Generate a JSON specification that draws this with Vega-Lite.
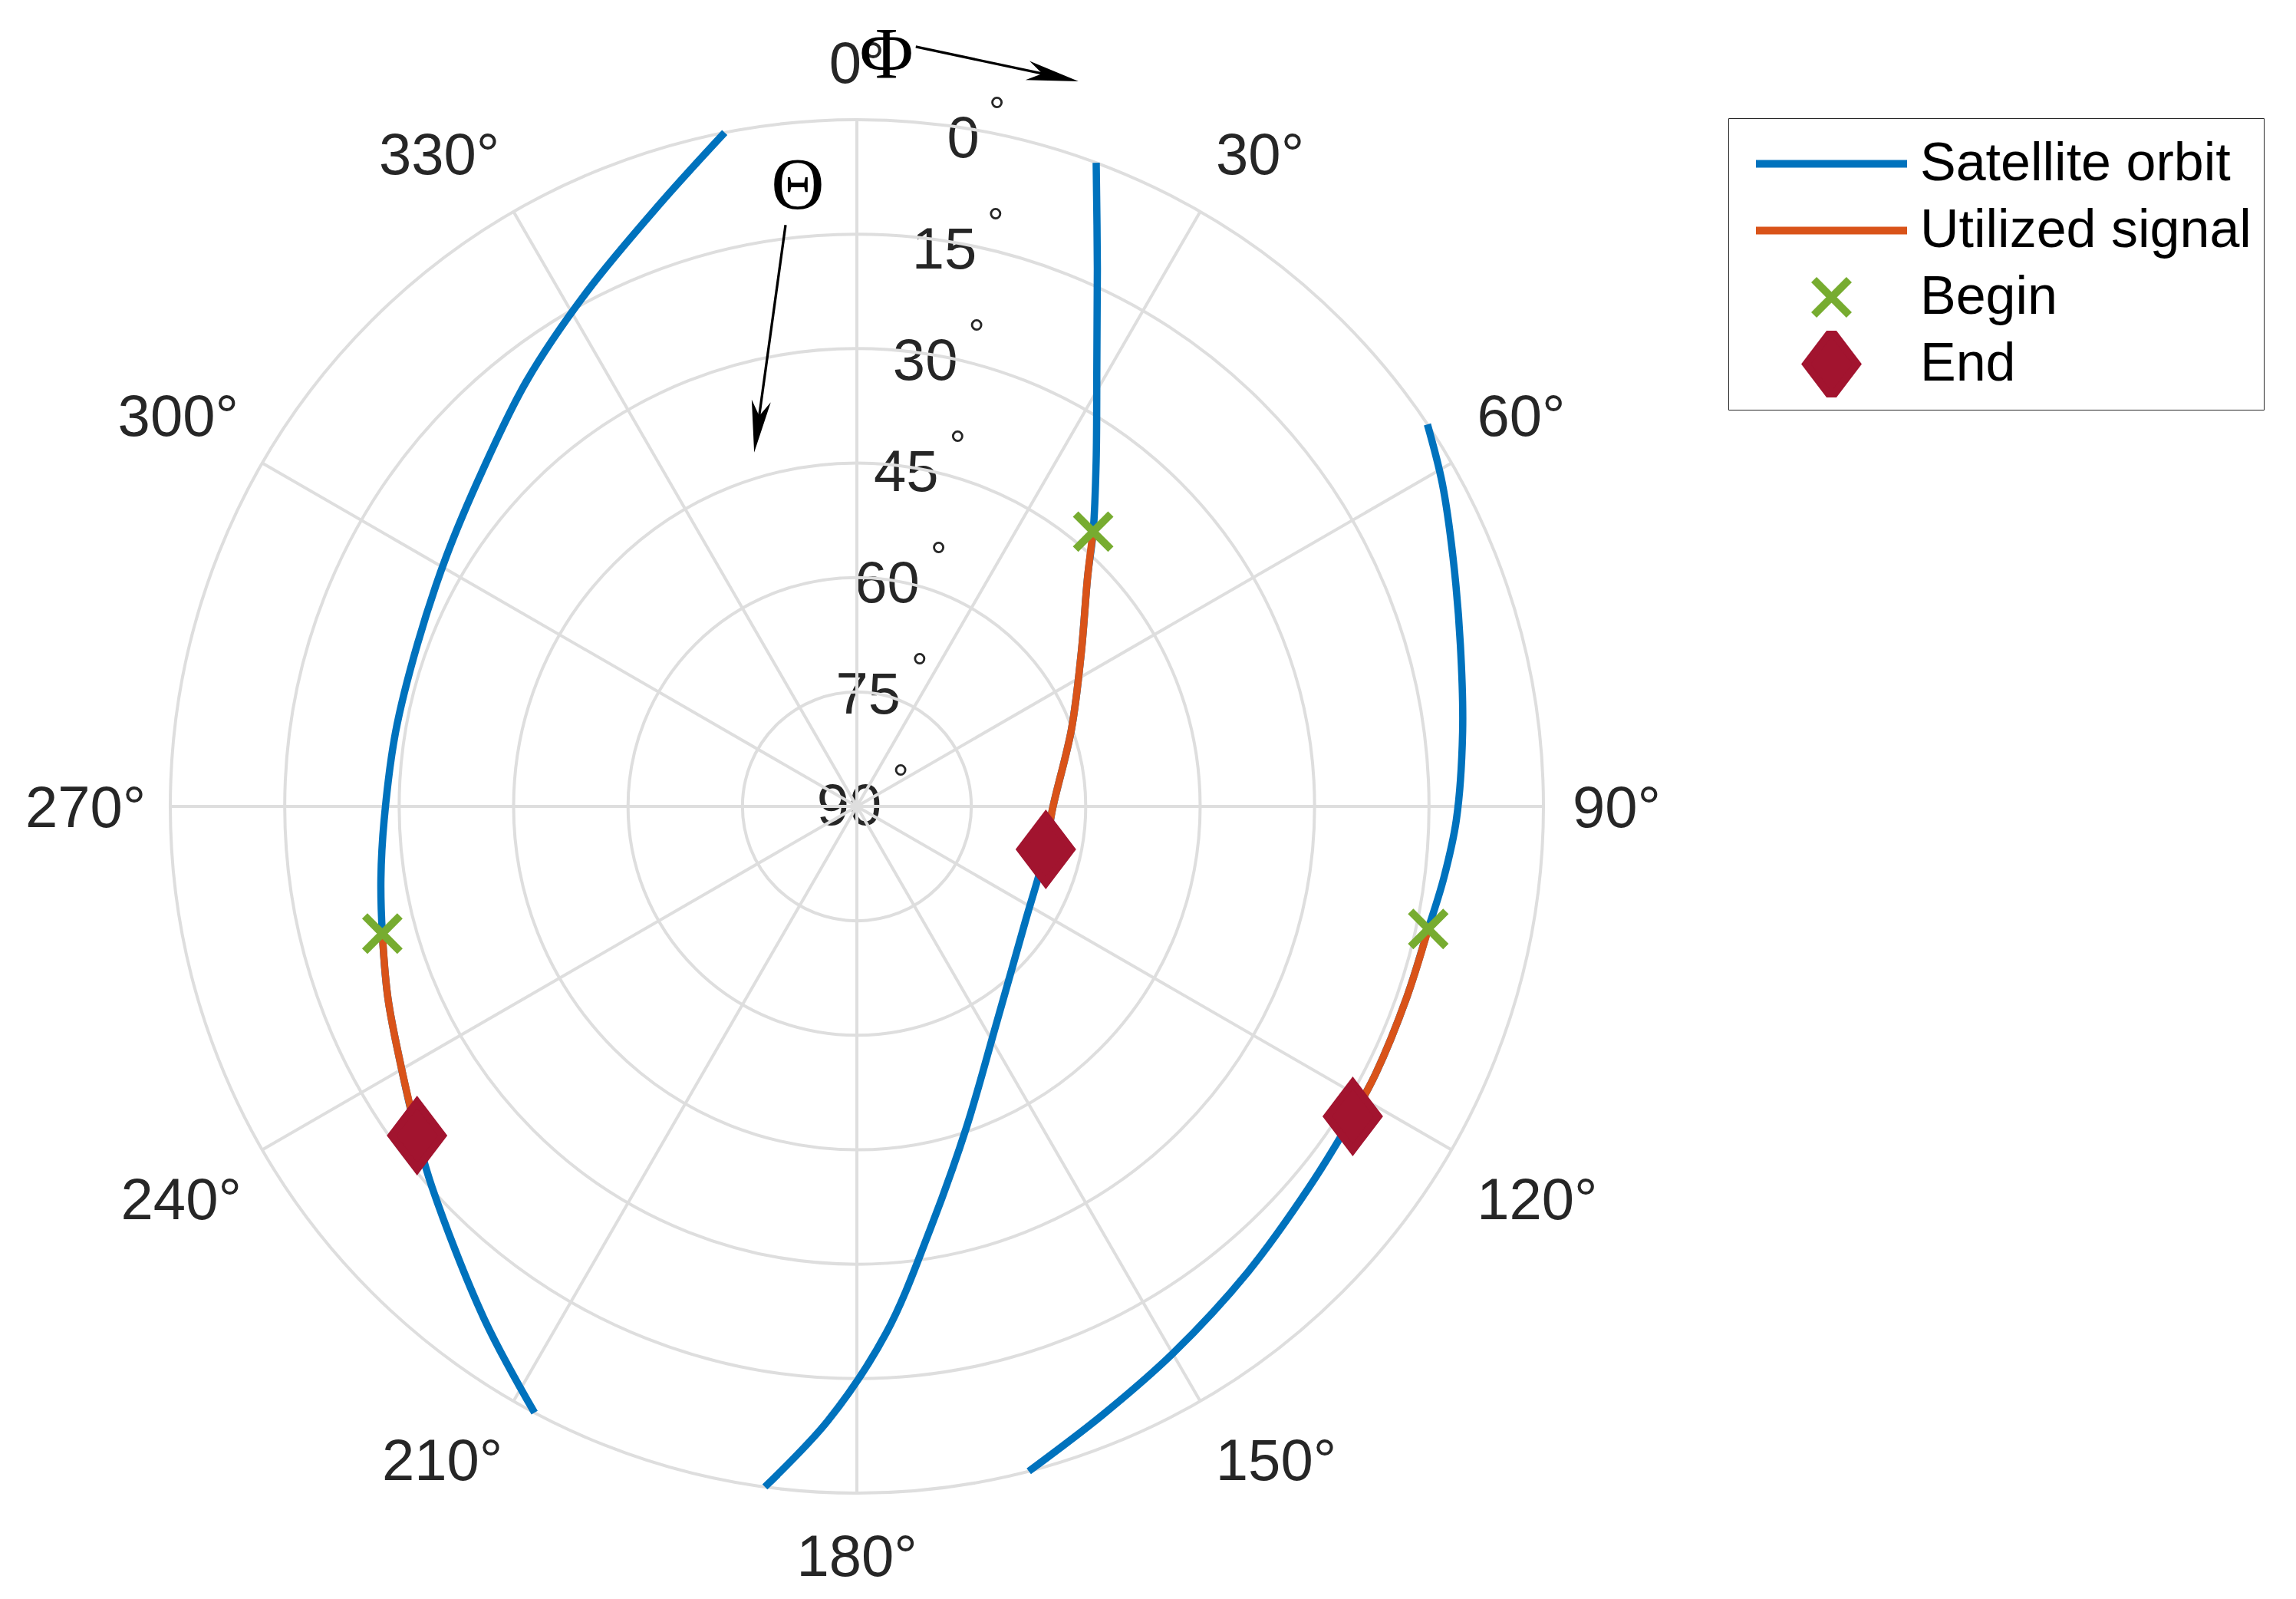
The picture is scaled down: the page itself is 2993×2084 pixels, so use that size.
{
  "$schema": "https://vega.github.io/schema/vega-lite/v6.json",
  "width": 1790,
  "height": 1790,
  "autosize": {"type": "none"},
  "padding": {"left": 222, "top": 156, "right": 981, "bottom": 138},
  "background": "white",
  "config": {"view": {"stroke": null}, "font": "Liberation Sans"},
  "datasets": {
    "orbits": [
      {"sat": "A", "i": 0, "az": 20.4, "el": 0, "used": false, "marker": null},
      {"sat": "A", "i": 1, "az": 24.1, "el": 12.8, "used": false, "marker": null},
      {"sat": "A", "i": 2, "az": 28.7, "el": 24.5, "used": false, "marker": null},
      {"sat": "A", "i": 3, "az": 34.7, "el": 34.9, "used": false, "marker": null},
      {"sat": "A", "i": 4, "az": 40.7, "el": 42.5, "used": true, "marker": "Begin"},
      {"sat": "A", "i": 5, "az": 45.0, "el": 47.2, "used": true, "marker": null},
      {"sat": "A", "i": 6, "az": 55.5, "el": 54.3, "used": true, "marker": null},
      {"sat": "A", "i": 7, "az": 70.2, "el": 60.1, "used": true, "marker": null},
      {"sat": "A", "i": 8, "az": 91.3, "el": 64.4, "used": true, "marker": null},
      {"sat": "A", "i": 9, "az": 102.8, "el": 64.6, "used": true, "marker": "End"},
      {"sat": "A", "i": 10, "az": 124.1, "el": 63.3, "used": false, "marker": null},
      {"sat": "A", "i": 11, "az": 147.6, "el": 56.0, "used": false, "marker": null},
      {"sat": "A", "i": 12, "az": 161.2, "el": 45.5, "used": false, "marker": null},
      {"sat": "A", "i": 13, "az": 170.2, "el": 33.7, "used": false, "marker": null},
      {"sat": "A", "i": 14, "az": 176.8, "el": 20.9, "used": false, "marker": null},
      {"sat": "A", "i": 15, "az": 182.7, "el": 9.4, "used": false, "marker": null},
      {"sat": "A", "i": 16, "az": 187.7, "el": 0, "used": false, "marker": null},
      {"sat": "B", "i": 0, "az": 56.2, "el": 0, "used": false, "marker": null},
      {"sat": "B", "i": 1, "az": 61.1, "el": 2.35, "used": false, "marker": null},
      {"sat": "B", "i": 2, "az": 67.3, "el": 5.3, "used": false, "marker": null},
      {"sat": "B", "i": 3, "az": 75.0, "el": 8.1, "used": false, "marker": null},
      {"sat": "B", "i": 4, "az": 83.0, "el": 10.0, "used": false, "marker": null},
      {"sat": "B", "i": 5, "az": 91.3, "el": 11.4, "used": false, "marker": null},
      {"sat": "B", "i": 6, "az": 97.0, "el": 12.5, "used": false, "marker": null},
      {"sat": "B", "i": 7, "az": 102.1, "el": 13.4, "used": true, "marker": "Begin"},
      {"sat": "B", "i": 8, "az": 109.2, "el": 13.7, "used": true, "marker": null},
      {"sat": "B", "i": 9, "az": 117.3, "el": 13.5, "used": true, "marker": null},
      {"sat": "B", "i": 10, "az": 122.0, "el": 13.35, "used": true, "marker": "End"},
      {"sat": "B", "i": 11, "az": 130.1, "el": 12.5, "used": false, "marker": null},
      {"sat": "B", "i": 12, "az": 140.0, "el": 10.3, "used": false, "marker": null},
      {"sat": "B", "i": 13, "az": 150.0, "el": 7.2, "used": false, "marker": null},
      {"sat": "B", "i": 14, "az": 158.0, "el": 4.0, "used": false, "marker": null},
      {"sat": "B", "i": 15, "az": 165.5, "el": 0, "used": false, "marker": null},
      {"sat": "C", "i": 0, "az": 348.9, "el": 0, "used": false, "marker": null},
      {"sat": "C", "i": 1, "az": 341.8, "el": 7.0, "used": false, "marker": null},
      {"sat": "C", "i": 2, "az": 332.2, "el": 13.9, "used": false, "marker": null},
      {"sat": "C", "i": 3, "az": 322.2, "el": 19.4, "used": false, "marker": null},
      {"sat": "C", "i": 4, "az": 312.1, "el": 24.0, "used": false, "marker": null},
      {"sat": "C", "i": 5, "az": 301.3, "el": 27.0, "used": false, "marker": null},
      {"sat": "C", "i": 6, "az": 290.2, "el": 28.6, "used": false, "marker": null},
      {"sat": "C", "i": 7, "az": 279.1, "el": 28.75, "used": false, "marker": null},
      {"sat": "C", "i": 8, "az": 268.3, "el": 28.0, "used": false, "marker": null},
      {"sat": "C", "i": 9, "az": 261.4, "el": 26.9, "used": false, "marker": null},
      {"sat": "C", "i": 10, "az": 255.0, "el": 25.6, "used": true, "marker": "Begin"},
      {"sat": "C", "i": 11, "az": 247.8, "el": 23.6, "used": true, "marker": null},
      {"sat": "C", "i": 12, "az": 240.8, "el": 21.4, "used": true, "marker": null},
      {"sat": "C", "i": 13, "az": 233.2, "el": 18.0, "used": true, "marker": "End"},
      {"sat": "C", "i": 14, "az": 228.1, "el": 15.2, "used": false, "marker": null},
      {"sat": "C", "i": 15, "az": 216.1, "el": 7.0, "used": false, "marker": null},
      {"sat": "C", "i": 16, "az": 208.0, "el": 0, "used": false, "marker": null}
    ],
    "azimuths": [
      {"az": 0, "label": "0°"}, {"az": 30, "label": "30°"}, {"az": 60, "label": "60°"},
      {"az": 90, "label": "90°"}, {"az": 120, "label": "120°"}, {"az": 150, "label": "150°"},
      {"az": 180, "label": "180°"}, {"az": 210, "label": "210°"}, {"az": 240, "label": "240°"},
      {"az": 270, "label": "270°"}, {"az": 300, "label": "300°"}, {"az": 330, "label": "330°"}
    ],
    "rings": [{"r": 15}, {"r": 30}, {"r": 45}, {"r": 60}, {"r": 75}, {"r": 90}],
    "elevations": [
      {"el": 0, "label": "0"}, {"el": 15, "label": "15"}, {"el": 30, "label": "30"},
      {"el": 45, "label": "45"}, {"el": 60, "label": "60"}, {"el": 75, "label": "75"},
      {"el": 90, "label": "90"}
    ],
    "arrows": [
      {"sym": "Φ", "lx": 3.88, "ly": 98.65, "x1": 7.72, "y1": 99.56, "x2": 25.71, "y2": 95.74, "dir": 102},
      {"sym": "Θ", "lx": -7.74, "ly": 81.56, "x1": -9.35, "y1": 76.2, "x2": -13.0, "y2": 49.76, "dir": 187.8}
    ]
  },
  "layer": [
    {
      "data": {"name": "elevations"},
      "transform": [
        {"calculate": "0.986 * (90 - datum.el) * sin(9.7 * PI / 180)", "as": "px"},
        {"calculate": "0.986 * (90 - datum.el) * cos(9.7 * PI / 180)", "as": "py"}
      ],
      "mark": {"type": "text", "align": "center", "baseline": "alphabetic", "dx": -10, "dy": 23.8, "fontSize": 76, "fill": "#262626"},
      "encoding": {
        "x": {"field": "px", "type": "quantitative", "scale": {"domain": [-90, 90], "nice": false, "zero": false}, "axis": null},
        "y": {"field": "py", "type": "quantitative", "scale": {"domain": [-90, 90], "nice": false, "zero": false}, "axis": null},
        "text": {"field": "label"}
      }
    },
    {
      "data": {"name": "elevations"},
      "transform": [
        {"filter": "datum.el != 0"},
        {"calculate": "0.986 * (90 - datum.el) * sin(9.7 * PI / 180)", "as": "px"},
        {"calculate": "0.986 * (90 - datum.el) * cos(9.7 * PI / 180)", "as": "py"}
      ],
      "mark": {"type": "text", "text": "°", "align": "center", "baseline": "alphabetic", "dx": 57, "dy": -17.4, "fontSize": 53, "fill": "#262626"},
      "encoding": {
        "x": {"field": "px", "type": "quantitative", "scale": {"domain": [-90, 90], "nice": false, "zero": false}, "axis": null},
        "y": {"field": "py", "type": "quantitative", "scale": {"domain": [-90, 90], "nice": false, "zero": false}, "axis": null}
      }
    },
    {
      "data": {"name": "elevations"},
      "transform": [
        {"filter": "datum.el == 0"},
        {"calculate": "0.986 * (90 - datum.el) * sin(9.7 * PI / 180)", "as": "px"},
        {"calculate": "0.986 * (90 - datum.el) * cos(9.7 * PI / 180)", "as": "py"}
      ],
      "mark": {"type": "text", "text": "°", "align": "center", "baseline": "alphabetic", "dx": 34, "dy": -17.4, "fontSize": 53, "fill": "#262626"},
      "encoding": {
        "x": {"field": "px", "type": "quantitative", "scale": {"domain": [-90, 90], "nice": false, "zero": false}, "axis": null},
        "y": {"field": "py", "type": "quantitative", "scale": {"domain": [-90, 90], "nice": false, "zero": false}, "axis": null}
      }
    },
    {
      "data": {"name": "rings"},
      "mark": {"type": "arc", "theta": 0, "theta2": 6.2832, "filled": false, "stroke": "#DEDEDE", "strokeWidth": 4},
      "encoding": {
        "radius": {"field": "r", "type": "quantitative", "stack": null, "scale": {"type": "linear", "domain": [0, 90], "range": [0, 895], "zero": true, "nice": false}}
      }
    },
    {
      "data": {"name": "azimuths"},
      "transform": [
        {"calculate": "0", "as": "ox"},
        {"calculate": "90 * sin(datum.az * PI / 180)", "as": "sx"},
        {"calculate": "90 * cos(datum.az * PI / 180)", "as": "sy"}
      ],
      "mark": {"type": "rule", "stroke": "#DEDEDE", "strokeWidth": 4},
      "encoding": {
        "x": {"field": "ox", "type": "quantitative", "scale": {"domain": [-90, 90], "nice": false, "zero": false}, "axis": null},
        "y": {"field": "ox", "type": "quantitative", "scale": {"domain": [-90, 90], "nice": false, "zero": false}, "axis": null},
        "x2": {"field": "sx"},
        "y2": {"field": "sy"}
      }
    },
    {
      "data": {"name": "azimuths"},
      "transform": [
        {"calculate": "sin(datum.az * PI / 180)", "as": "s"},
        {"calculate": "cos(datum.az * PI / 180)", "as": "c"},
        {"calculate": "93.5 * datum.s + (datum.s > 0.01 ? (datum.c < -0.1 ? 8.2 : 6.1) : datum.s < -0.01 ? (datum.c > 0.1 ? -8.0 : -7.6) : 0)", "as": "px"},
        {"calculate": "93.5 * datum.c + (datum.c > 0.99 ? 4.1 : datum.c > 0.01 ? 4.6 : datum.c < -0.01 ? -4.6 : 0)", "as": "py"}
      ],
      "mark": {"type": "text", "align": "center", "baseline": "alphabetic", "dy": 27.2, "fontSize": 76, "fill": "#262626"},
      "encoding": {
        "x": {"field": "px", "type": "quantitative", "scale": {"domain": [-90, 90], "nice": false, "zero": false}, "axis": null},
        "y": {"field": "py", "type": "quantitative", "scale": {"domain": [-90, 90], "nice": false, "zero": false}, "axis": null},
        "text": {"field": "label"}
      }
    },
    {
      "data": {"name": "orbits"},
      "transform": [
        {"calculate": "(90 - datum.el) * sin(datum.az * PI / 180)", "as": "px"},
        {"calculate": "(90 - datum.el) * cos(datum.az * PI / 180)", "as": "py"}
      ],
      "mark": {"type": "line", "strokeWidth": 9.5, "interpolate": "catmull-rom", "opacity": 1},
      "encoding": {
        "x": {"field": "px", "type": "quantitative", "scale": {"domain": [-90, 90], "nice": false, "zero": false}, "axis": null},
        "y": {"field": "py", "type": "quantitative", "scale": {"domain": [-90, 90], "nice": false, "zero": false}, "axis": null},
        "detail": {"field": "sat"},
        "order": {"field": "i", "type": "quantitative"},
        "color": {
          "datum": "Satellite orbit",
          "type": "nominal",
          "title": null,
          "scale": {"domain": ["Satellite orbit", "Utilized signal", "Begin", "End"], "range": ["#0072BD", "#D95319", "#77AC30", "#A2142F"]},
          "legend": {
            "title": null, "orient": "none", "legendX": 2031, "legendY": -2, "padding": 16, "symbolOffset": 15, "labelOffset": 12,
            "labelFont": "Liberation Sans", "labelFontSize": 70, "labelColor": "#000000", "labelLimit": 1000,
            "strokeColor": "#262626", "fillColor": "#FFFFFF", "symbolSize": 38809, "symbolStrokeWidth": 10, "symbolFillColor": "#A2142F", "symbolOpacity": 1,
            "clipHeight": 87, "rowPadding": 0
          }
        }
      }
    },
    {
      "data": {"name": "orbits"},
      "transform": [
        {"filter": "datum.used"},
        {"calculate": "(90 - datum.el) * sin(datum.az * PI / 180)", "as": "px"},
        {"calculate": "(90 - datum.el) * cos(datum.az * PI / 180)", "as": "py"}
      ],
      "mark": {"type": "line", "strokeWidth": 9.5, "interpolate": "catmull-rom", "opacity": 1},
      "encoding": {
        "x": {"field": "px", "type": "quantitative", "scale": {"domain": [-90, 90], "nice": false, "zero": false}, "axis": null},
        "y": {"field": "py", "type": "quantitative", "scale": {"domain": [-90, 90], "nice": false, "zero": false}, "axis": null},
        "detail": {"field": "sat"},
        "order": {"field": "i", "type": "quantitative"},
        "color": {
          "datum": "Utilized signal", "type": "nominal", "title": null,
          "legend": {
            "title": null, "orient": "none", "legendX": 2031, "legendY": -2, "padding": 16, "symbolOffset": 15, "labelOffset": 12,
            "labelFont": "Liberation Sans", "labelFontSize": 70, "labelColor": "#000000", "labelLimit": 1000,
            "strokeColor": "#262626", "fillColor": "#FFFFFF", "symbolSize": 38809, "symbolStrokeWidth": 10, "symbolFillColor": "#A2142F", "symbolOpacity": 1,
            "clipHeight": 87, "rowPadding": 0
          }
        }
      }
    },
    {
      "data": {"name": "orbits"},
      "transform": [
        {"filter": "datum.marker === 'Begin'"},
        {"calculate": "(90 - datum.el) * sin(datum.az * PI / 180)", "as": "px"},
        {"calculate": "(90 - datum.el) * cos(datum.az * PI / 180)", "as": "py"}
      ],
      "mark": {"type": "point", "filled": false, "strokeWidth": 10, "size": 38809, "opacity": 1},
      "encoding": {
        "x": {"field": "px", "type": "quantitative", "scale": {"domain": [-90, 90], "nice": false, "zero": false}, "axis": null},
        "y": {"field": "py", "type": "quantitative", "scale": {"domain": [-90, 90], "nice": false, "zero": false}, "axis": null},
        "color": {
          "field": "marker", "type": "nominal", "title": null,
          "legend": {
            "title": null, "orient": "none", "legendX": 2031, "legendY": -2, "padding": 16, "symbolOffset": 15, "labelOffset": 12,
            "labelFont": "Liberation Sans", "labelFontSize": 70, "labelColor": "#000000", "labelLimit": 1000,
            "strokeColor": "#262626", "fillColor": "#FFFFFF", "symbolSize": 38809, "symbolStrokeWidth": 10, "symbolFillColor": "#A2142F", "symbolOpacity": 1,
            "clipHeight": 87, "rowPadding": 0
          }
        },
        "shape": {
          "field": "marker", "type": "nominal", "title": null,
          "scale": {"domain": ["Satellite orbit", "Utilized signal", "Begin", "End"], "range": ["stroke", "stroke", "M-0.233,-0.233L0.233,0.233M0.233,-0.233L-0.233,0.233", "M0,-0.444L0.337,0L0,0.444L-0.337,0Z"]},
          "legend": {
            "title": null, "orient": "none", "legendX": 2031, "legendY": -2, "padding": 16, "symbolOffset": 15, "labelOffset": 12,
            "labelFont": "Liberation Sans", "labelFontSize": 70, "labelColor": "#000000", "labelLimit": 1000,
            "strokeColor": "#262626", "fillColor": "#FFFFFF", "symbolSize": 38809, "symbolStrokeWidth": 10, "symbolFillColor": "#A2142F", "symbolOpacity": 1,
            "clipHeight": 87, "rowPadding": 0
          }
        }
      }
    },
    {
      "data": {"name": "orbits"},
      "transform": [
        {"filter": "datum.marker === 'End'"},
        {"calculate": "(90 - datum.el) * sin(datum.az * PI / 180)", "as": "px"},
        {"calculate": "(90 - datum.el) * cos(datum.az * PI / 180)", "as": "py"}
      ],
      "mark": {"type": "point", "filled": true, "stroke": "#A2142F", "strokeWidth": 10, "size": 38809, "opacity": 1},
      "encoding": {
        "x": {"field": "px", "type": "quantitative", "scale": {"domain": [-90, 90], "nice": false, "zero": false}, "axis": null},
        "y": {"field": "py", "type": "quantitative", "scale": {"domain": [-90, 90], "nice": false, "zero": false}, "axis": null},
        "color": {
          "field": "marker", "type": "nominal", "title": null,
          "legend": {
            "title": null, "orient": "none", "legendX": 2031, "legendY": -2, "padding": 16, "symbolOffset": 15, "labelOffset": 12,
            "labelFont": "Liberation Sans", "labelFontSize": 70, "labelColor": "#000000", "labelLimit": 1000,
            "strokeColor": "#262626", "fillColor": "#FFFFFF", "symbolSize": 38809, "symbolStrokeWidth": 10, "symbolFillColor": "#A2142F", "symbolOpacity": 1,
            "clipHeight": 87, "rowPadding": 0
          }
        },
        "shape": {"field": "marker", "type": "nominal", "title": null}
      }
    },
    {
      "data": {"name": "arrows"},
      "mark": {"type": "rule", "stroke": "#000000", "strokeWidth": 3.3},
      "encoding": {
        "x": {"field": "x1", "type": "quantitative", "scale": {"domain": [-90, 90], "nice": false, "zero": false}, "axis": null},
        "y": {"field": "y1", "type": "quantitative", "scale": {"domain": [-90, 90], "nice": false, "zero": false}, "axis": null},
        "x2": {"field": "x2"},
        "y2": {"field": "y2"}
      }
    },
    {
      "data": {"name": "arrows"},
      "mark": {"type": "point", "shape": "M0,-1L0.37,1L0,0.42L-0.37,1Z", "filled": true, "fill": "#000000", "strokeWidth": 0, "size": 4624, "opacity": 1},
      "encoding": {
        "x": {"field": "x2", "type": "quantitative", "scale": {"domain": [-90, 90], "nice": false, "zero": false}, "axis": null},
        "y": {"field": "y2", "type": "quantitative", "scale": {"domain": [-90, 90], "nice": false, "zero": false}, "axis": null},
        "angle": {"field": "dir", "type": "quantitative", "scale": null}
      }
    },
    {
      "data": {"name": "arrows"},
      "mark": {"type": "text", "font": "Liberation Serif", "fontSize": 96, "align": "center", "baseline": "alphabetic", "dy": 31.7, "fill": "#000000"},
      "encoding": {
        "x": {"field": "lx", "type": "quantitative", "scale": {"domain": [-90, 90], "nice": false, "zero": false}, "axis": null},
        "y": {"field": "ly", "type": "quantitative", "scale": {"domain": [-90, 90], "nice": false, "zero": false}, "axis": null},
        "text": {"field": "sym"}
      }
    }
  ]
}
